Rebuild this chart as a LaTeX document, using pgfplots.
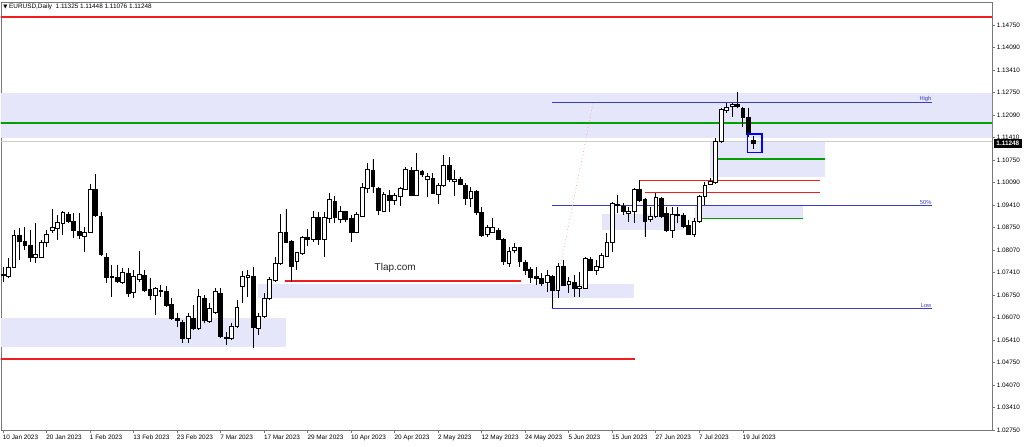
\documentclass[border=0pt]{standalone}
\usepackage{fontspec}
\setmainfont{Liberation Sans}
\newfontfamily\symfont{DejaVu Sans}
\usepackage{pgfplots}
\pgfplotsset{compat=1.18}
\usepgfplotslibrary{statistics}

\definecolor{zone}{RGB}{230,230,250}
\definecolor{fib}{RGB}{60,60,190}
\definecolor{lvlred}{RGB}{240,30,30}
\definecolor{lvlgreen}{RGB}{0,160,0}
\definecolor{frame}{RGB}{120,120,120}
\definecolor{trendpink}{RGB}{250,170,170}

\newcommand{\tf}{\fontsize{4.8}{5.5}\selectfont}

\pgfplotsset{
  candle/.style={draw=black, line width=0.55pt, solid,
    boxplot/draw direction=y, boxplot/box extend=0.7, boxplot/whisker extend=0},
}
% candle: index, open, high, low, close
\newcommand{\up}[5]{\addplot[candle, fill=white, boxplot prepared={draw position=#1, lower whisker=#4, lower quartile=#2, median=#2, upper quartile=#5, upper whisker=#3}] coordinates {};}
\newcommand{\dn}[5]{\addplot[candle, fill=black, boxplot prepared={draw position=#1, lower whisker=#4, lower quartile=#5, median=#5, upper quartile=#2, upper whisker=#3}] coordinates {};}

\begin{document}
\begin{tikzpicture}
\begin{axis}[
  at={(0.75pt,12pt)}, anchor=south west,
  scale only axis, width=743.25pt, height=321pt,
  xmin=-0.37, xmax=181.8, ymin=1.0275, ymax=1.15432,
  clip mode=individual,
  boxplot/draw direction=y,
  axis line style={draw=frame, line width=0.6pt},
  tick align=outside, major tick length=2.2pt,
  tick style={draw=frame, line width=0.5pt},
  xtick pos=left, ytick pos=right, yticklabel pos=right,
  xtick={0,8,...,136},
  xticklabels={10 Jan 2023,20 Jan 2023,1 Feb 2023,13 Feb 2023,23 Feb 2023,7 Mar 2023,17 Mar 2023,29 Mar 2023,10 Apr 2023,20 Apr 2023,2 May 2023,12 May 2023,24 May 2023,5 Jun 2023,15 Jun 2023,27 Jun 2023,7 Jul 2023,19 Jul 2023},
  xticklabel style={anchor=north west, inner sep=0pt, xshift=-0.3pt, yshift=-1.6pt, font=\tf},
  ytick={1.14750,1.14083,1.13417,1.12750,1.12083,1.11417,1.10750,1.10083,1.09417,1.08750,1.08083,1.07417,1.06750,1.06083,1.05417,1.04750,1.04083,1.03417,1.02750},
  yticklabels={1.14750,1.14090,1.13410,1.12750,1.12090,1.11410,1.10750,1.10090,1.09410,1.08750,1.08070,1.07410,1.06750,1.06070,1.05410,1.04750,1.04070,1.03410,1.02750},
  yticklabel style={anchor=west, inner sep=0pt, xshift=1.2pt, font=\tf},
]
% zones
\addplot[fill=zone, draw=none] coordinates {(-1,1.1141) (200,1.1141) (200,1.1273) (-1,1.1273)} -- cycle;
\addplot[fill=zone, draw=none] coordinates {(-1,1.0521) (52.0,1.0521) (52.0,1.0607) (-1,1.0607)} -- cycle;
\addplot[fill=zone, draw=none] coordinates {(46.9,1.0665) (116.0,1.0665) (116.0,1.0708) (46.9,1.0708)} -- cycle;
\addplot[fill=zone, draw=none] coordinates {(110.1,1.0868) (125.1,1.0868) (125.1,1.0915) (110.1,1.0915)} -- cycle;
\addplot[fill=zone, draw=none] coordinates {(127.2,1.0899) (147.1,1.0899) (147.1,1.0940) (127.2,1.0940)} -- cycle;
\addplot[fill=zone, draw=none] coordinates {(130.0,1.1025) (151.1,1.1025) (151.1,1.1127) (130.0,1.1127)} -- cycle;
% levels
\addplot[lvlred, line width=1.2pt] coordinates {(-1,1.1498) (200,1.1498)};
\addplot[draw=lvlgreen, line width=1.2pt] coordinates {(-1,1.1184) (200,1.1184)};
\addplot[black!20, line width=0.9pt] coordinates {(-1,1.1131) (200,1.1131)};
\addplot[lvlred, line width=1.1pt] coordinates {(-1,1.0486) (116.2,1.0486)};
\addplot[lvlred, line width=1.1pt] coordinates {(51.8,1.0717) (95.2,1.0717)};
\addplot[lvlred, line width=1.1pt] coordinates {(117.1,1.1014) (150.2,1.1014)};
\addplot[lvlred, line width=1.1pt] coordinates {(118.0,1.0978) (150.2,1.0978)};
\addplot[draw=lvlgreen, line width=1.2pt] coordinates {(131.4,1.1078) (151.1,1.1078)};
\addplot[draw=lvlgreen, line width=1.1pt] coordinates {(128.1,1.0902) (147.1,1.0902)};
% fibonacci
\addplot[fib, line width=0.6pt] coordinates {(100.9,1.1246) (170.8,1.1246)};
\addplot[fib, line width=0.6pt] coordinates {(100.9,1.0941) (170.8,1.0941)};
\addplot[fib, line width=0.6pt] coordinates {(100.9,1.0636) (170.8,1.0636)};
\addplot[trendpink, dotted, line width=0.6pt] coordinates {(100.9,1.0636) (108.5,1.1246)};
% candles
\dn{0}{1.0736}{1.0759}{1.0714}{1.0732}
\up{1}{1.0731}{1.0784}{1.0724}{1.0757}
\up{2}{1.0757}{1.0868}{1.0754}{1.0853}
\dn{3}{1.0853}{1.0873}{1.0779}{1.0833}
\dn{4}{1.0833}{1.0877}{1.0808}{1.0821}
\dn{5}{1.0821}{1.0868}{1.0774}{1.0788}
\up{6}{1.0788}{1.0889}{1.0769}{1.0796}
\up{7}{1.0788}{1.0838}{1.0784}{1.0830}
\up{8}{1.0830}{1.0868}{1.0818}{1.0856}
\up{9}{1.0866}{1.0929}{1.0858}{1.0874}
\up{10}{1.0871}{1.0912}{1.0838}{1.0889}
\up{11}{1.0887}{1.0924}{1.0853}{1.0919}
\dn{12}{1.0915}{1.0922}{1.0887}{1.0894}
\dn{13}{1.0894}{1.0917}{1.0843}{1.0868}
\dn{14}{1.0863}{1.0917}{1.0840}{1.0851}
\up{15}{1.0849}{1.0877}{1.0803}{1.0861}
\up{16}{1.0861}{1.1003}{1.0858}{1.0989}
\dn{17}{1.0989}{1.1034}{1.0907}{1.0910}
\dn{18}{1.0909}{1.0922}{1.0793}{1.0794}
\dn{19}{1.0788}{1.0799}{1.0710}{1.0726}
\dn{20}{1.0729}{1.0764}{1.0670}{1.0726}
\dn{21}{1.0727}{1.0764}{1.0711}{1.0714}
\up{22}{1.0711}{1.0754}{1.0710}{1.0741}
\dn{23}{1.0739}{1.0754}{1.0670}{1.0680}
\up{24}{1.0682}{1.0749}{1.0665}{1.0729}
\up{25}{1.0722}{1.0806}{1.0714}{1.0737}
\dn{26}{1.0734}{1.0749}{1.0685}{1.0690}
\dn{27}{1.0692}{1.0724}{1.0660}{1.0675}
\up{28}{1.0675}{1.0700}{1.0616}{1.0695}
\dn{29}{1.0688}{1.0705}{1.0670}{1.0686}
\dn{30}{1.0687}{1.0702}{1.0640}{1.0645}
\dn{31}{1.0646}{1.0665}{1.0601}{1.0606}
\dn{32}{1.0606}{1.0621}{1.0581}{1.0601}
\dn{33}{1.0594}{1.0601}{1.0534}{1.0547}
\up{34}{1.0547}{1.0621}{1.0534}{1.0611}
\dn{35}{1.0606}{1.0645}{1.0571}{1.0576}
\up{36}{1.0576}{1.0692}{1.0571}{1.0670}
\dn{37}{1.0665}{1.0675}{1.0591}{1.0599}
\up{38}{1.0596}{1.0650}{1.0591}{1.0636}
\up{39}{1.0623}{1.0695}{1.0621}{1.0685}
\dn{40}{1.0680}{1.0695}{1.0547}{1.0552}
\dn{41}{1.0550}{1.0566}{1.0527}{1.0547}
\up{42}{1.0547}{1.0591}{1.0542}{1.0583}
\up{43}{1.0581}{1.0660}{1.0576}{1.0639}
\up{44}{1.0700}{1.0747}{1.0650}{1.0729}
\up{45}{1.0726}{1.0749}{1.0670}{1.0732}
\dn{46}{1.0731}{1.0759}{1.0517}{1.0578}
\up{47}{1.0576}{1.0621}{1.0557}{1.0613}
\up{48}{1.0611}{1.0680}{1.0606}{1.0665}
\up{49}{1.0665}{1.0729}{1.0660}{1.0722}
\up{50}{1.0719}{1.0788}{1.0714}{1.0769}
\up{51}{1.0769}{1.0915}{1.0764}{1.0861}
\dn{52}{1.0861}{1.0929}{1.0828}{1.0831}
\dn{53}{1.0833}{1.0838}{1.0714}{1.0761}
\up{54}{1.0774}{1.0803}{1.0749}{1.0800}
\up{55}{1.0799}{1.0850}{1.0793}{1.0846}
\dn{56}{1.0845}{1.0870}{1.0820}{1.0841}
\up{57}{1.0840}{1.0925}{1.0833}{1.0905}
\dn{58}{1.0905}{1.0922}{1.0823}{1.0841}
\up{59}{1.0840}{1.0922}{1.0788}{1.0905}
\up{60}{1.0902}{1.0976}{1.0887}{1.0957}
\dn{61}{1.0952}{1.0968}{1.0887}{1.0905}
\up{62}{1.0899}{1.0939}{1.0887}{1.0922}
\dn{63}{1.0922}{1.0925}{1.0892}{1.0900}
\dn{64}{1.0902}{1.0912}{1.0833}{1.0861}
\up{65}{1.0861}{1.0922}{1.0858}{1.0915}
\up{66}{1.0909}{1.1006}{1.0907}{1.0994}
\up{67}{1.0991}{1.1067}{1.0976}{1.1048}
\dn{68}{1.1045}{1.1077}{1.0978}{1.0996}
\dn{69}{1.0991}{1.0996}{1.0912}{1.0927}
\up{70}{1.0924}{1.0981}{1.0922}{1.0973}
\dn{71}{1.0971}{1.0986}{1.0922}{1.0954}
\up{72}{1.0954}{1.0976}{1.0942}{1.0971}
\up{73}{1.0966}{1.0996}{1.0939}{1.0991}
\up{74}{1.0988}{1.1053}{1.0986}{1.1048}
\dn{75}{1.1043}{1.1055}{1.0968}{1.0971}
\up{76}{1.0971}{1.1095}{1.0968}{1.1043}
\dn{77}{1.1040}{1.1045}{1.1026}{1.1031}
\up{78}{1.1019}{1.1036}{1.0966}{1.1026}
\dn{79}{1.1021}{1.1036}{1.0974}{1.0976}
\up{80}{1.0974}{1.1006}{1.0945}{1.1001}
\up{81}{1.0999}{1.1090}{1.0996}{1.1060}
\dn{82}{1.1060}{1.1083}{1.1011}{1.1018}
\up{83}{1.1012}{1.1045}{1.0969}{1.1019}
\dn{84}{1.1019}{1.1026}{1.1001}{1.1004}
\dn{85}{1.1001}{1.1006}{1.0942}{1.0962}
\up{86}{1.0962}{1.0996}{1.0937}{1.0981}
\dn{87}{1.0981}{1.0986}{1.0912}{1.0919}
\dn{88}{1.0919}{1.0937}{1.0848}{1.0853}
\up{89}{1.0856}{1.0882}{1.0848}{1.0874}
\up{90}{1.0861}{1.0902}{1.0858}{1.0876}
\dn{91}{1.0866}{1.0873}{1.0838}{1.0840}
\dn{92}{1.0840}{1.0843}{1.0764}{1.0774}
\up{93}{1.0769}{1.0818}{1.0759}{1.0805}
\up{94}{1.0806}{1.0828}{1.0799}{1.0815}
\dn{95}{1.0815}{1.0818}{1.0759}{1.0774}
\dn{96}{1.0772}{1.0779}{1.0734}{1.0749}
\dn{97}{1.0752}{1.0759}{1.0710}{1.0726}
\dn{98}{1.0729}{1.0759}{1.0705}{1.0724}
\dn{99}{1.0724}{1.0739}{1.0702}{1.0710}
\up{100}{1.0711}{1.0749}{1.0685}{1.0734}
\dn{101}{1.0731}{1.0734}{1.0637}{1.0690}
\up{102}{1.0690}{1.0769}{1.0665}{1.0761}
\dn{103}{1.0761}{1.0779}{1.0702}{1.0705}
\up{104}{1.0707}{1.0729}{1.0680}{1.0714}
\dn{105}{1.0711}{1.0734}{1.0670}{1.0695}
\up{106}{1.0695}{1.0744}{1.0668}{1.0702}
\up{107}{1.0695}{1.0788}{1.0692}{1.0784}
\dn{108}{1.0782}{1.0788}{1.0746}{1.0749}
\up{109}{1.0747}{1.0779}{1.0734}{1.0759}
\up{110}{1.0757}{1.0799}{1.0754}{1.0793}
\up{111}{1.0790}{1.0858}{1.0788}{1.0830}
\up{112}{1.0830}{1.0952}{1.0803}{1.0947}
\dn{113}{1.0944}{1.0971}{1.0917}{1.0940}
\dn{114}{1.0937}{1.0947}{1.0912}{1.0924}
\up{115}{1.0917}{1.0937}{1.0892}{1.0922}
\up{116}{1.0922}{1.0991}{1.0887}{1.0989}
\dn{117}{1.0989}{1.1016}{1.0952}{1.0954}
\dn{118}{1.0957}{1.0962}{1.0848}{1.0892}
\up{119}{1.0899}{1.0937}{1.0892}{1.0907}
\up{120}{1.0907}{1.0976}{1.0902}{1.0963}
\dn{121}{1.0962}{1.0966}{1.0902}{1.0907}
\dn{122}{1.0917}{1.0937}{1.0863}{1.0868}
\up{123}{1.0868}{1.0937}{1.0843}{1.0914}
\dn{124}{1.0914}{1.0937}{1.0887}{1.0910}
\dn{125}{1.0912}{1.0917}{1.0873}{1.0877}
\dn{126}{1.0882}{1.0897}{1.0853}{1.0855}
\up{127}{1.0855}{1.0902}{1.0848}{1.0894}
\up{128}{1.0892}{1.0971}{1.0887}{1.0966}
\up{129}{1.0966}{1.1011}{1.0942}{1.1001}
\up{130}{1.1003}{1.1021}{1.1001}{1.1011}
\up{131}{1.1008}{1.1139}{1.1006}{1.1129}
\up{132}{1.1129}{1.1228}{1.1125}{1.1225}
\up{133}{1.1223}{1.1243}{1.1213}{1.1231}
\up{134}{1.1233}{1.1243}{1.1203}{1.1241}
\dn{135}{1.1241}{1.1277}{1.1228}{1.1235}
\dn{136}{1.1228}{1.1233}{1.1174}{1.1202}
\dn{137}{1.1202}{1.1230}{1.1144}{1.1152}
\dn{138}{1.11325}{1.11448}{1.11076}{1.11248}
% marker box round the last bar
\addplot[blue, line width=1pt] coordinates {(136.8,1.1097) (139.5,1.1097) (139.5,1.1152) (136.8,1.1152)} -- cycle;
% texts
\node[anchor=south east, text=fib, inner sep=0.4pt, font=\fontsize{4.3}{5}\selectfont] at (axis cs:170.8,1.1246) {High};
\node[anchor=south east, text=fib, inner sep=0.4pt, font=\fontsize{4.3}{5}\selectfont] at (axis cs:170.8,1.0941) {50\%};
\node[anchor=south east, text=fib, inner sep=0.4pt, font=\fontsize{4.3}{5}\selectfont] at (axis cs:170.8,1.0636) {Low};
\node[text=black!85, font=\fontsize{7.5}{8}\selectfont] at (axis cs:72.1,1.0755) {Tlap.com};
\node[anchor=west, inner sep=0pt, font=\tf] at (rel axis cs:0,1) [xshift=1.5pt, yshift=-3.8pt] {{\symfont\fontsize{4}{5}\selectfont ▼}\ EURUSD,Daily\ \ 1.11325 1.11448 1.11076 1.11248};
\node[anchor=west, fill=black, text=white, inner sep=0pt, minimum width=21pt, minimum height=7pt, font=\tf\bfseries] at (axis cs:181.8,1.11248) [xshift=1.2pt] {1.11248};
\end{axis}
\pgfresetboundingbox
\path[use as bounding box] (0,0) rectangle (768pt,334.5pt);
\end{tikzpicture}
\end{document}
